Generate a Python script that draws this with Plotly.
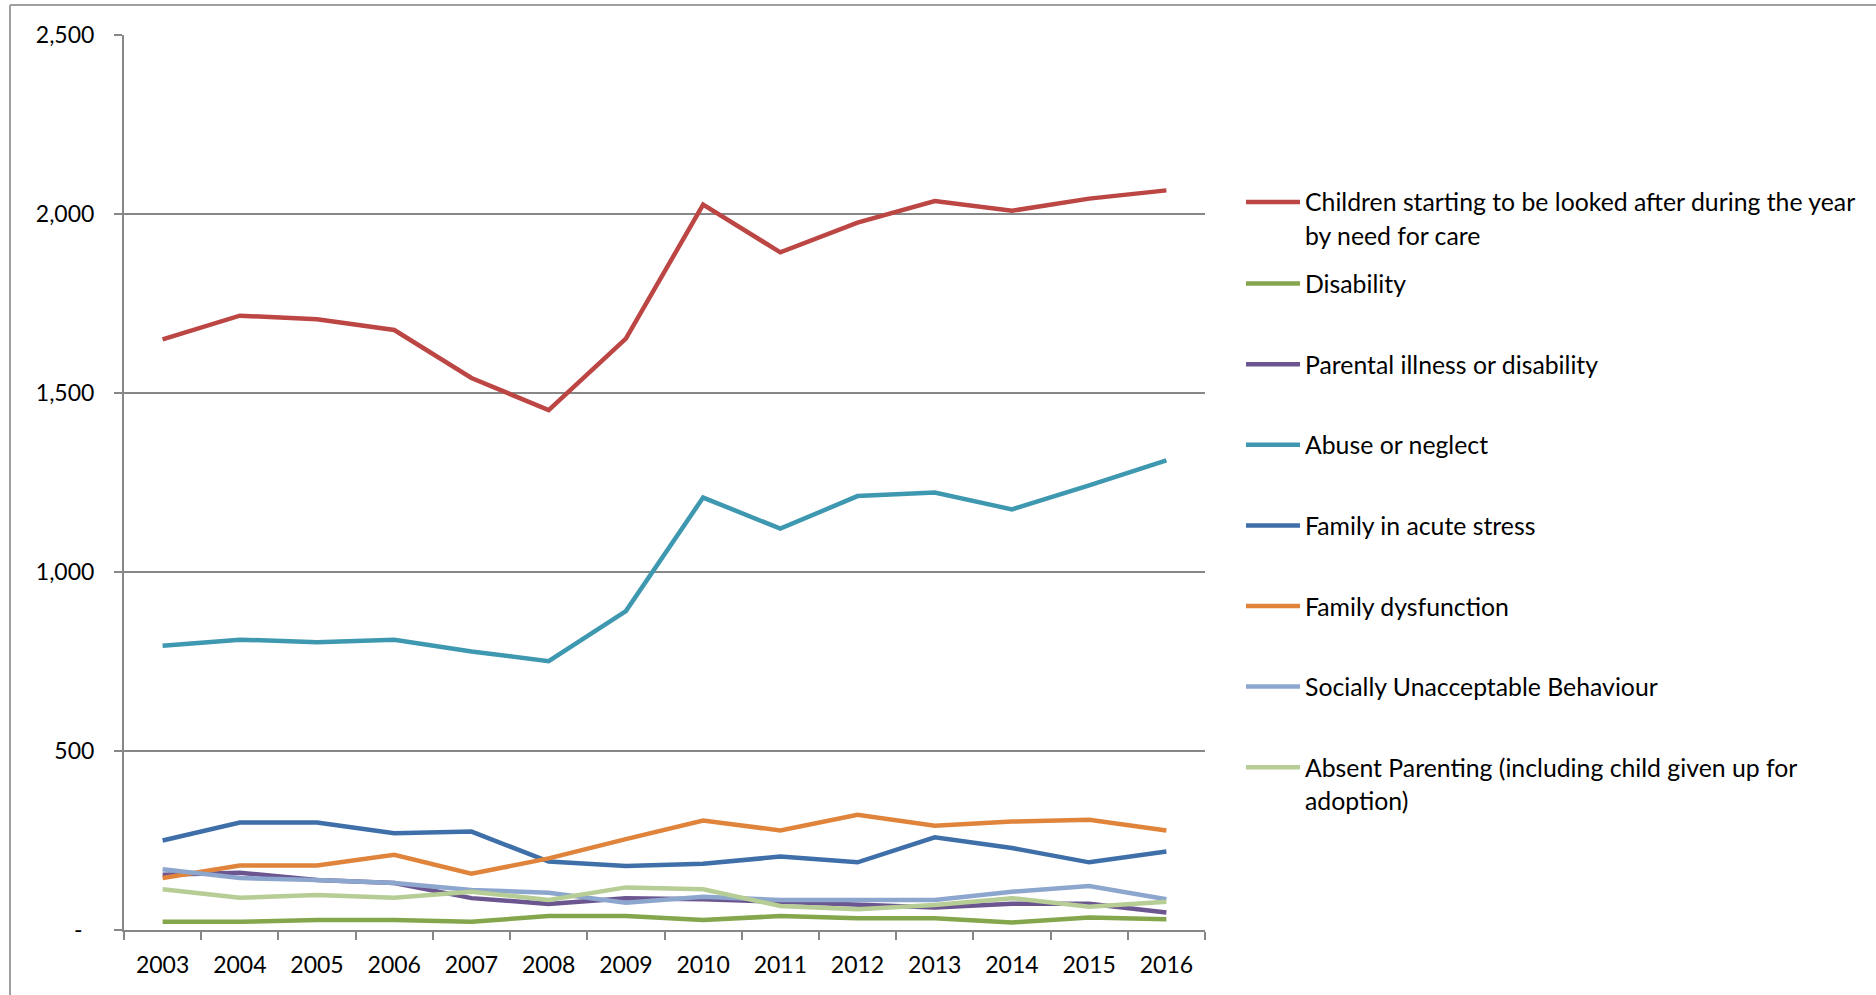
import plotly.graph_objects as go

# Children starting to be looked after, by need for care
years = [str(y) for y in range(2003, 2017)]

total_children = [1650, 1716, 1706, 1676, 1542, 1452, 1652, 2026, 1893, 1976, 2036, 2009, 2043, 2066]
disability = [23, 23, 28, 28, 23, 39, 39, 28, 39, 33, 33, 21, 35, 30]
parental_illness = [154, 160, 140, 131, 89, 73, 89, 86, 79, 70, 63, 73, 73, 49]
abuse_neglect = [794, 811, 804, 811, 778, 751, 891, 1208, 1121, 1212, 1222, 1175, 1242, 1312]
acute_stress = [250, 300, 300, 270, 275, 191, 179, 185, 205, 189, 259, 229, 189, 219]
family_dysfunction = [145, 180, 180, 210, 157, 200, 254, 306, 278, 322, 291, 303, 308, 278]
socially_unacceptable = [170, 145, 140, 131, 112, 104, 76, 93, 84, 84, 84, 107, 123, 86]
absent_parenting = [114, 90, 98, 90, 107, 84, 119, 114, 67, 58, 70, 89, 65, 79]

y_tick_vals = [0, 500, 1000, 1500, 2000, 2500]
y_tick_text = ["-\u00a0\u00a0", "500", "1,000", "1,500", "2,000", "2,500"]

series = [
    (["Children starting to be looked after during the year", "by need for care"], total_children, "#BC4643"),
    (["Disability"], disability, "#84A64C"),
    (["Parental illness or disability"], parental_illness, "#6C5690"),
    (["Abuse or neglect"], abuse_neglect, "#3E98B0"),
    (["Family in acute stress"], acute_stress, "#3F6FA9"),
    (["Family dysfunction"], family_dysfunction, "#E0843B"),
    (["Socially Unacceptable Behaviour"], socially_unacceptable, "#8CA6CE"),
    (["Absent Parenting (including child given up for", "adoption)"], absent_parenting, "#B6CD95"),
]

W, H = 1876, 995
L, R, T, B = 124, 1205, 35, 930
FONT = "Lato"
GREY = "#878787"


def px_x(px):
    return (px - L) / (R - L)


def px_y(py):
    return (B - py) / (B - T)


fig = go.Figure()
for label_lines, values, color in series:
    fig.add_trace(go.Scatter(
        x=years, y=values, mode="lines", name=" ".join(label_lines),
        line=dict(color=color, width=4.5), showlegend=False,
    ))

shapes = []
annotations = []

# Legend drawn at fixed pixel rows
legend_rows = [202, 283.6, 364.2, 444.8, 525.4, 606, 686.6, 767.2]
line_gap = 33.5
for (label_lines, _, color), row in zip(series, legend_rows):
    shapes.append(dict(
        type="line", xref="paper", yref="paper",
        x0=px_x(1246), x1=px_x(1300), y0=px_y(row), y1=px_y(row),
        line=dict(color=color, width=4.5),
    ))
    for i, text in enumerate(label_lines):
        annotations.append(dict(
            x=px_x(1303), y=px_y(row + i * line_gap), xref="paper", yref="paper",
            xanchor="left", yanchor="middle", text=text, showarrow=False,
            font=dict(family=FONT, size=24.8, color="#000000"),
        ))

# Chart frame (top and left edges)
shapes.append(dict(type="line", xref="paper", yref="paper",
                   x0=px_x(10), x1=px_x(W + 10), y0=px_y(5), y1=px_y(5),
                   line=dict(color="#A0A0A0", width=2)))
shapes.append(dict(type="line", xref="paper", yref="paper",
                   x0=px_x(10), x1=px_x(10), y0=px_y(5), y1=px_y(H + 10),
                   line=dict(color="#A0A0A0", width=2)))

fig.update_layout(
    width=W, height=H,
    margin=dict(l=L, r=W - R, t=T, b=H - B, autoexpand=False),
    paper_bgcolor="white", plot_bgcolor="white",
    font=dict(family=FONT, size=23, color="#000000"),
    shapes=shapes, annotations=annotations,
    xaxis=dict(
        type="category", range=[-0.5, 13.5], tickson="boundaries",
        showgrid=False, showline=True, linecolor=GREY, linewidth=2,
        ticks="outside", ticklen=8, tickwidth=2, tickcolor=GREY,
        ticklabelstandoff=13, tickfont=dict(family=FONT, size=23),
        zeroline=False,
    ),
    yaxis=dict(
        range=[0, 2500], tickvals=y_tick_vals, ticktext=y_tick_text,
        showgrid=True, gridcolor=GREY, gridwidth=2,
        showline=True, linecolor=GREY, linewidth=2,
        ticks="outside", ticklen=8, tickwidth=2, tickcolor=GREY,
        ticklabelstandoff=15, tickfont=dict(family=FONT, size=23),
        zeroline=False,
    ),
)

fig.write_html("out.html")
